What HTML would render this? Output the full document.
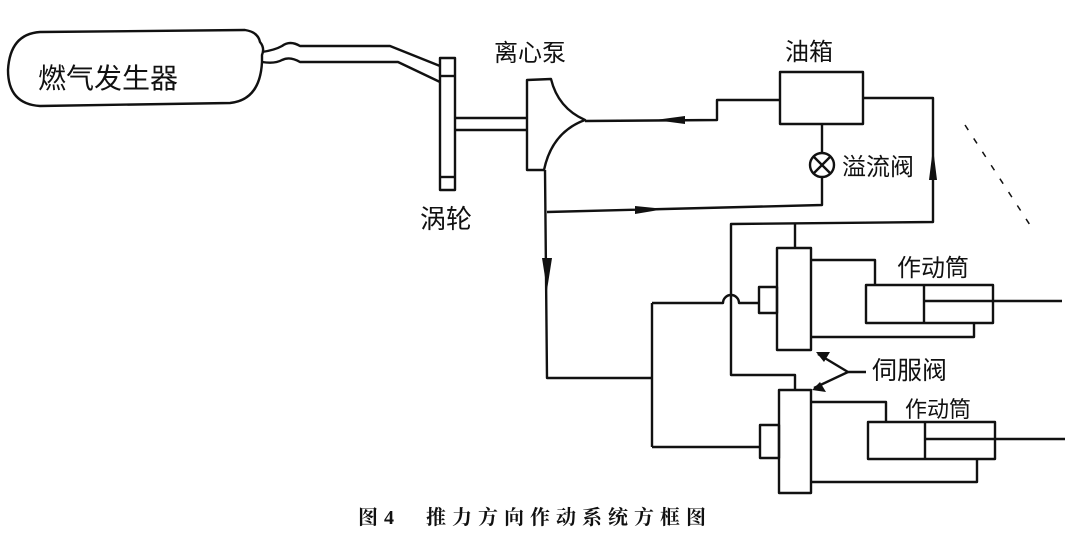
<!DOCTYPE html>
<html><head><meta charset="utf-8"><style>
html,body{margin:0;padding:0;background:#fff;}
svg{display:block;}
text{font-family:"Liberation Sans","Noto Sans CJK SC",sans-serif;fill:#111;}
</style></head><body>
<svg width="1079" height="539" viewBox="0 0 1079 539" xmlns="http://www.w3.org/2000/svg">
<g fill="none" stroke="#111" stroke-width="2.4" stroke-linejoin="round">
<path d="M40 32 L245 30 Q258 32 260 42 Q265 48 262 55 L262 62 Q260 100 230 103 L40 106 Q8 104 8 70 Q10 34 40 32 Z"/>
<path d="M262 52 Q275 50 282 46 Q290 40 300 46 L390 46 L440 66"/>
<path d="M262 62 Q275 64 282 60 Q290 56 300 62 L398 62 L440 82"/>
<rect x="440" y="58" width="15" height="132"/>
<line x1="440" y1="76" x2="455" y2="76"/>
<line x1="440" y1="177" x2="455" y2="177"/>
<line x1="455" y1="118" x2="526" y2="118"/>
<line x1="455" y1="130" x2="526" y2="130"/>
<path d="M527 80 L551 79 Q558 108 585 120 Q552 132 544 170 L527 170 Z"/>
<rect x="780" y="72" width="83" height="52"/>
<path d="M585 121 L717 120 L717 100 L780 100"/>
<path d="M863 98 L933 98 L933 222 L731 224 L731 375 L795 375 L795 390"/>
<line x1="822" y1="124" x2="822" y2="153"/>
<circle cx="822" cy="165" r="12"/>
<line x1="814" y1="157" x2="830" y2="173"/>
<line x1="830" y1="157" x2="814" y2="173"/>
<path d="M822 177 L822 205 L547 212"/>
<path d="M545 170 L547 378 L652 378"/>
<line x1="652" y1="303" x2="652" y2="447"/>
<path d="M652 303 L723 303 A8 8 0 0 1 739 303 L759 303"/>
<line x1="652" y1="447" x2="760" y2="447"/>
<line x1="795" y1="224" x2="795" y2="248"/>
<rect x="777" y="248" width="34" height="102"/>
<rect x="759" y="287" width="18" height="26"/>
<path d="M811 260 L875 260 L875 285"/>
<rect x="866" y="285" width="127" height="38"/>
<line x1="924" y1="285" x2="924" y2="323"/>
<line x1="924" y1="301" x2="1062" y2="301"/>
<path d="M811 337 L974 337 L974 323"/>
<rect x="779" y="390" width="32" height="103"/>
<rect x="760" y="425" width="19" height="33"/>
<path d="M811 402 L886 402 L886 422"/>
<rect x="868" y="422" width="127" height="37"/>
<line x1="925" y1="422" x2="925" y2="459"/>
<line x1="925" y1="439" x2="1065" y2="439"/>
<path d="M811 482 L977 482 L977 459"/>
<path d="M866 372 L848 372 L818 354"/>
<path d="M848 372 L814 388"/>
<path d="M965 125 L1030 225" stroke-dasharray="6 10" stroke-width="1.5"/>
</g>
<g fill="#111">
<polygon points="655,120 685,116 685,124"/>
<polygon points="665,209 635,206 635,214"/>
<polygon points="542,258 552,258 547,290"/>
<polygon points="929,180 937,180 933,148"/>
<polygon points="816,352 830,352 824,362"/>
<polygon points="812,390 826,392 820,382"/>
</g>
<text x="38" y="88" font-size="28">燃气发生器</text>
<text x="494" y="61" font-size="24">离心泵</text>
<text x="420" y="228" font-size="26">涡轮</text>
<text x="785" y="60" font-size="24">油箱</text>
<text x="842" y="175" font-size="24">溢流阀</text>
<text x="872" y="379" font-size="25">伺服阀</text>
<text x="897" y="276" font-size="24">作动筒</text>
<text x="905" y="417" font-size="22">作动筒</text>
<text x="358" y="524" font-size="20" font-weight="bold" style="font-family:'Liberation Serif','Noto Serif CJK SC',serif" letter-spacing="6">图4　推力方向作动系统方框图</text>
</svg>
</body></html>
